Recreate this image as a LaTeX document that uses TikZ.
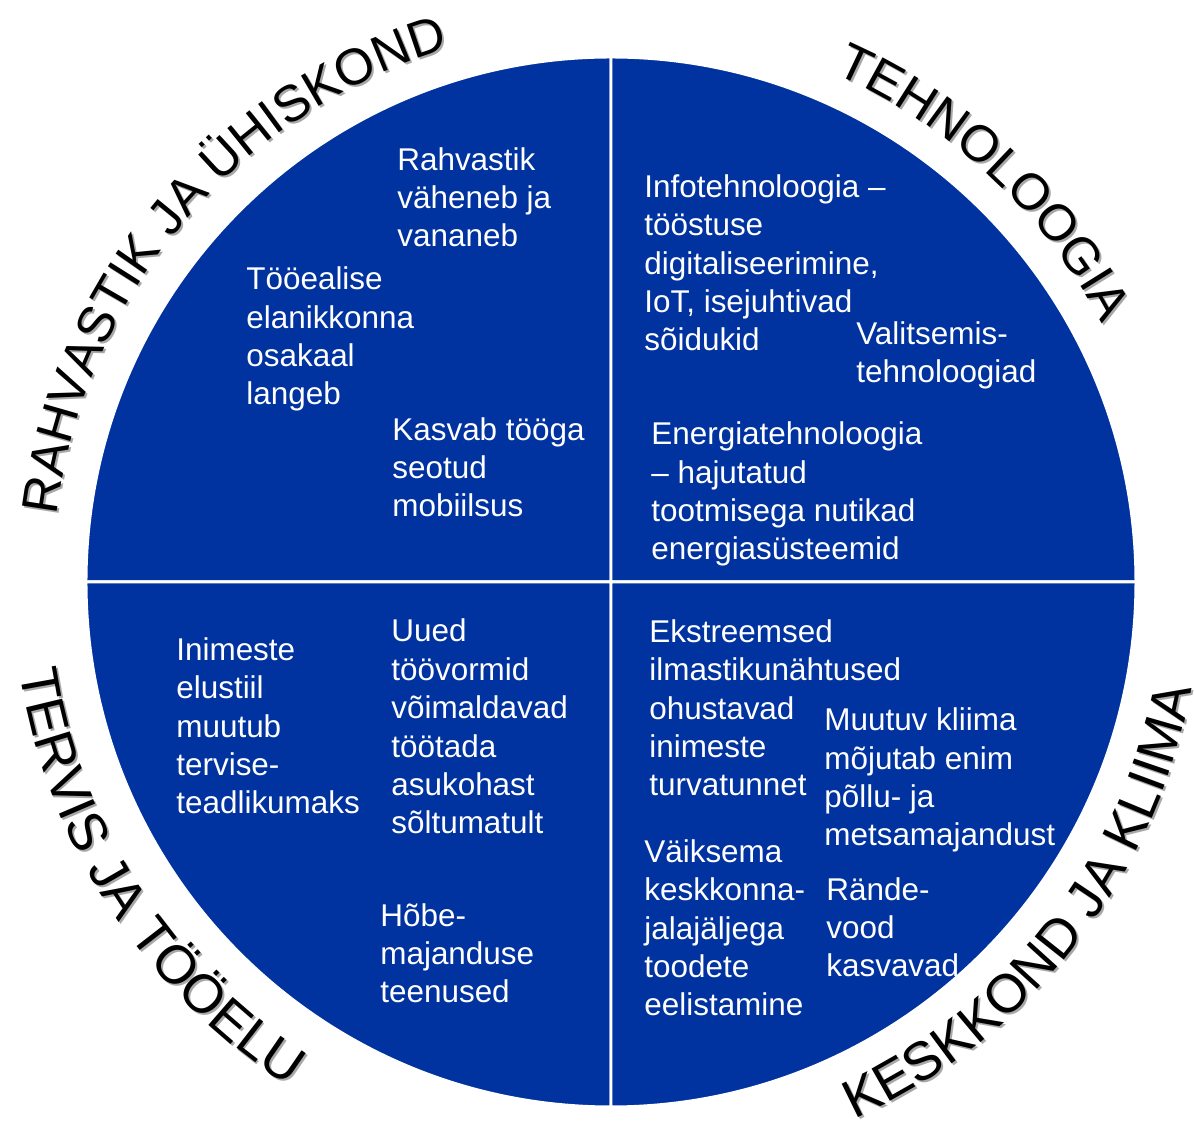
\documentclass[tikz,border=0pt]{standalone}
\usepackage{fontspec}
\setmainfont{Liberation Sans}
\usepackage{xcolor}
\usepackage{tikz}
\usetikzlibrary{decorations.text}
\definecolor{kobalt}{HTML}{0033A0}
\definecolor{varjo}{HTML}{A8A8A8}
\newcommand\ringfont{\fontsize{29}{29}\selectfont}
\newcommand\ringfontalt{\fontsize{30.7}{30.7}\selectfont}

\begin{document}
\begin{tikzpicture}[x=0.02cm, y=0.02cm,
      sektor/.style={fill=kobalt, draw=white, line width=1.7pt},
      teade/.style={anchor=base west, inner sep=0pt, align=left, text=white,
                    font=\fontsize{17.9}{21.9}\selectfont},
      kaar/.style 2 args={decorate, decoration={text along path, text align=center,
                    text color=#1, text={|\ringfont|#2}}},
      kaaralt/.style 2 args={decorate, decoration={text along path, text align=center,
                    text color=#1, text={|\ringfontalt|#2}}}]

    \useasboundingbox (-611,-539) rectangle (583,582);

    \path[sektor] (0,0) -- (90:525) arc[start angle=90, end angle=180, radius=525] -- cycle;
    \path[sektor] (0,0) -- (0:525) arc[start angle=0, end angle=90, radius=525] -- cycle;
    \path[sektor] (0,0) -- (180:525) arc[start angle=180, end angle=270, radius=525] -- cycle;
    \path[sektor] (0,0) -- (270:525) arc[start angle=270, end angle=360, radius=525] -- cycle;

    \path[kaar={varjo}{RAHVASTIK JA ÜHISKOND}, shift={(2,-2)}] (190:558) arc[start angle=190, end angle=90, radius=558];
    \path[kaar={black}{RAHVASTIK JA ÜHISKOND}] (190:558) arc[start angle=190, end angle=90, radius=558];
    \path[kaar={varjo}{TEHNOLOOGIA}, shift={(2,-2)}] (87:555) arc[start angle=87, end angle=7, radius=555];
    \path[kaar={black}{TEHNOLOOGIA}] (87:555) arc[start angle=87, end angle=7, radius=555];
    \path[kaaralt={varjo}{TERVIS JA TÖÖELU}, shift={(2,-2)}] (168:598) arc[start angle=168, end angle=258, radius=598];
    \path[kaaralt={black}{TERVIS JA TÖÖELU}] (168:598) arc[start angle=168, end angle=258, radius=598];
    \path[kaaralt={varjo}{KESKKOND JA KLIIMA}, shift={(2,-2)}] (-86:590) arc[start angle=-86, end angle=10, radius=590];
    \path[kaaralt={black}{KESKKOND JA KLIIMA}] (-86:590) arc[start angle=-86, end angle=10, radius=590];

    \node[teade] (vananeb) at (-214,335) {Rahvastik\\väheneb ja\\vananeb};
    \node[teade] (tooealine) at (-365,177) {Tööealise\\elanikkonna\\osakaal\\langeb};
    \node[teade] (mobiilsus) at (-219,65) {Kasvab tööga\\seotud\\mobiilsus};
    \node[teade] (infotehn) at (33,231) {Infotehnoloogia –\\tööstuse\\digitaliseerimine,\\IoT, isejuhtivad\\sõidukid};
    \node[teade] (valitsemis) at (245,199) {Valitsemis-\\tehnoloogiad};
    \node[teade] (energia) at (40,22) {Energiatehnoloogia\\– hajutatud\\tootmisega nutikad\\energiasüsteemid};
    \node[teade] (elustiil) at (-435,-232) {Inimeste\\elustiil\\muutub\\tervise-\\teadlikumaks};
    \node[teade] (toovormid) at (-220,-252) {Uued\\töövormid\\võimaldavad\\töötada\\asukohast\\sõltumatult};
    \node[teade] (hobe) at (-231,-421) {Hõbe-\\majanduse\\teenused};
    \node[teade] (ilmastik) at (38,-214) {Ekstreemsed\\ilmastikunähtused\\ohustavad\\inimeste\\turvatunnet};
    \node[teade] (kliima) at (213,-264) {Muutuv kliima\\mõjutab enim\\põllu- ja\\metsamajandust};
    \node[teade] (jalajalg) at (33,-434) {Väiksema\\keskkonna-\\jalajäljega\\toodete\\eelistamine};
    \node[teade] (ranne) at (215,-395) {Rände-\\vood\\kasvavad};
  \end{tikzpicture}
\end{document}
